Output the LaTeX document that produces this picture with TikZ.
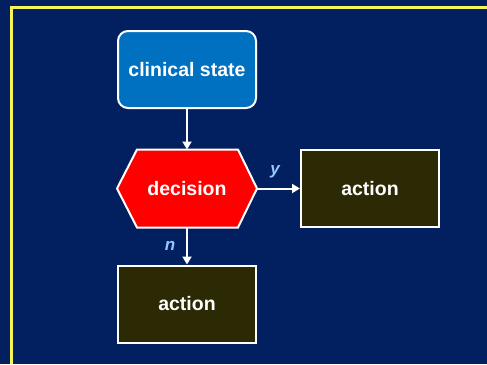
\documentclass[tikz,border=0pt]{standalone}
\usepackage{fontspec}
\setmainfont{Liberation Sans}
\usetikzlibrary{arrows.meta,shapes.geometric}
\definecolor{bgnavy}{RGB}{2,32,96}
\definecolor{boxblue}{RGB}{0,112,192}
\definecolor{olive}{RGB}{43,42,5}
\definecolor{lblblue}{RGB}{150,200,255}
\definecolor{frameyellow}{RGB}{245,245,90}
\tikzset{
  box/.style={draw=white, line width=2pt, minimum width=138pt, minimum height=77pt, inner sep=0pt,
    text=white, font=\fontsize{19.5}{22}\selectfont\bfseries},
  startbox/.style={box, fill=boxblue, rounded corners=10pt},
  actbox/.style={box, fill=olive},
  conn/.style={draw=white, line width=2pt, -{Triangle[width=9pt,length=8pt]}},
  branchlbl/.style={text=lblblue, font=\fontsize{17}{19}\selectfont\bfseries\itshape}
}
\begin{document}
\begin{tikzpicture}[x=1pt,y=-1pt]
\fill[bgnavy] (0,0) rectangle (487,364);
\useasboundingbox (0,0) rectangle (487,364);
\draw[frameyellow, line width=3pt] (11,364) -- (11,7) -- (487,7);
\node[startbox] (cs) at (187,69.5) {clinical state};
\draw[white, line width=2pt, fill=red] (117,188.5) -- (137,149.5) -- (238,149.5) -- (257,188.5) -- (238,227.5) -- (137,227.5) -- cycle;
\coordinate (dec) at (187,188.5);
\coordinate (decT) at (187,149.5);
\coordinate (decB) at (187,227.5);
\coordinate (decR) at (257,188.5);
\node[text=white, font=\fontsize{19.5}{22}\selectfont\bfseries] (dtext) at (dec) {decision};
\node[actbox] (a1) at (370,188.5) {action};
\node[actbox] (a2) at (187,304) {action};
\draw[conn] (cs.south) -- (decT);
\draw[conn] (decR) -- (a1.west);
\draw[conn] (decB) -- (a2.north);
\node[branchlbl] (ly) at (275,172) {y};
\node[branchlbl] (ln) at (170,246) {n};
\end{tikzpicture}
\end{document}
